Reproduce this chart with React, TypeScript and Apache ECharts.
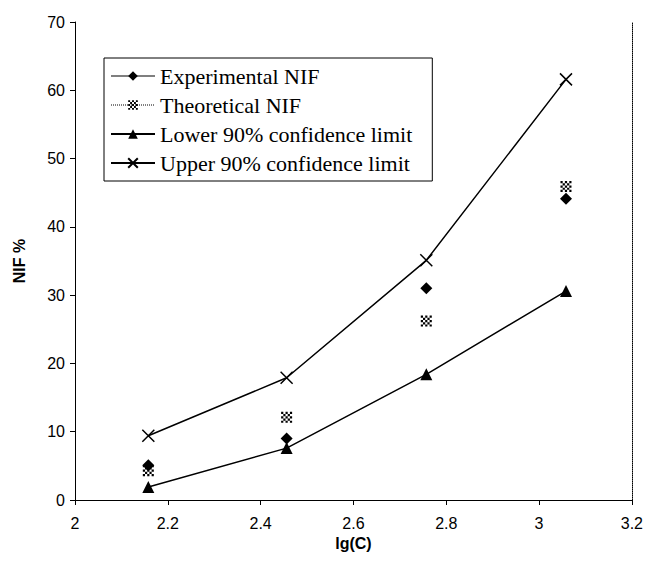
import React, { useEffect, useRef } from "react";
import * as echarts from "echarts";

const lgC = [2.158, 2.456, 2.757, 3.058];
const experimental = [5.1, 9.0, 31.0, 44.1];
const theoretical = [4.3, 12.1, 26.2, 45.9];
const lower90 = [1.9, 7.6, 18.4, 30.6];
const upper90 = [9.4, 17.9, 35.1, 61.6];
const seriesNames = [
  "Experimental NIF",
  "Theoretical NIF",
  "Lower 90% confidence limit",
  "Upper 90% confidence limit",
];

function checker(): string {
  let d = "";
  for (let r = 0; r < 5; r++) {
    for (let c = 0; c < 5; c++) {
      if ((r + c) % 2 === 0) d += `M${c} ${r}h1v1h-1z `;
    }
  }
  return "path://" + d.trim();
}

const crossPath = "path://M0 0L10 10M10 0L0 10";

function pairs(xs: number[], ys: number[]) {
  return xs.map((x, i) => [x, ys[i]]);
}

export default function App() {
  const ref = useRef<HTMLDivElement>(null);
  useEffect(() => {
    if (!ref.current) return;
    const chart = echarts.init(ref.current, undefined, { renderer: "svg" });
    const tickFont = { fontFamily: "Liberation Sans, Arial, sans-serif", fontSize: 16, color: "#000" };
    chart.setOption({
      animation: false,
      backgroundColor: "#fff",
      grid: { left: 75, right: 14, top: 22, bottom: 71, containLabel: false },
      legend: {
        orient: "vertical",
        left: 104,
        top: 58,
        padding: [7, 20, 7, 6],
        itemGap: 7,
        itemWidth: 44,
        itemHeight: 12,
        borderColor: "#000",
        borderWidth: 1,
        borderRadius: 0,
        backgroundColor: "#fff",
        textStyle: { fontFamily: "Liberation Serif, Times New Roman, serif", fontSize: 22, color: "#000" },
        data: [
          { name: seriesNames[0], lineStyle: { type: "solid", opacity: 1, color: "#000", width: 1.2 } },
          { name: seriesNames[1], lineStyle: { type: "dotted", opacity: 1, color: "#000", width: 1 } },
          { name: seriesNames[2] },
          { name: seriesNames[3] },
        ],
      },
      xAxis: [
        {
          type: "value",
          min: 2,
          max: 3.2,
          interval: 0.2,
          name: "lg(C)",
          nameLocation: "middle",
          nameGap: 35,
          nameTextStyle: { ...tickFont, fontWeight: "bold" },
          axisLine: { lineStyle: { color: "#000", width: 1 } },
          axisTick: { inside: false, length: 5, lineStyle: { color: "#000" } },
          axisLabel: { ...tickFont, margin: 15, formatter: (v: number) => String(Math.round(v * 10) / 10) },
          splitLine: { show: false },
        },
        {
          type: "value",
          min: 2,
          max: 3.2,
          position: "top",
          axisLine: { show: true, lineStyle: { color: "#000", type: "dotted", width: 1 } },
          axisTick: { show: false },
          axisLabel: { show: false },
          splitLine: { show: false },
        },
      ],
      yAxis: [
        {
          type: "value",
          min: 0,
          max: 70,
          interval: 10,
          name: "NIF %",
          nameLocation: "middle",
          nameGap: 48,
          nameTextStyle: { ...tickFont, fontWeight: "bold" },
          axisLine: { show: true, lineStyle: { color: "#000", width: 1 } },
          axisTick: { show: true, inside: false, length: 5, lineStyle: { color: "#000" } },
          axisLabel: { ...tickFont, margin: 10 },
          splitLine: { show: false },
        },
        {
          type: "value",
          min: 0,
          max: 70,
          position: "right",
          axisLine: { show: true, lineStyle: { color: "#000", type: "dotted", width: 1 } },
          axisTick: { show: false },
          axisLabel: { show: false },
          splitLine: { show: false },
        },
      ],
      series: [
        {
          name: seriesNames[1],
          type: "line",
          data: pairs(lgC, theoretical),
          symbol: checker(),
          symbolSize: 11,
          showSymbol: true,
          itemStyle: { color: "#000" },
          lineStyle: { opacity: 0, width: 1, type: "dotted", color: "#000" },
          z: 3,
        },
        {
          name: seriesNames[0],
          type: "line",
          data: pairs(lgC, experimental),
          symbol: "diamond",
          symbolSize: 12,
          itemStyle: { color: "#000" },
          lineStyle: { opacity: 0, width: 1.2, color: "#000" },
          z: 4,
        },
        {
          name: seriesNames[2],
          type: "line",
          data: pairs(lgC, lower90),
          symbol: "triangle",
          symbolSize: 12,
          itemStyle: { color: "#000" },
          lineStyle: { width: 1.5, color: "#000" },
          z: 4,
        },
        {
          name: seriesNames[3],
          type: "line",
          data: pairs(lgC, upper90),
          symbol: crossPath,
          symbolSize: 12,
          itemStyle: { color: "#000", borderColor: "#000", borderWidth: 1.5 },
          lineStyle: { width: 1.5, color: "#000" },
          z: 4,
        },
      ],
    });
    return () => chart.dispose();
  }, []);
  return <div ref={ref} style={{ width: 646, height: 571, position: "absolute", left: 0, top: 0 }} />;
}
